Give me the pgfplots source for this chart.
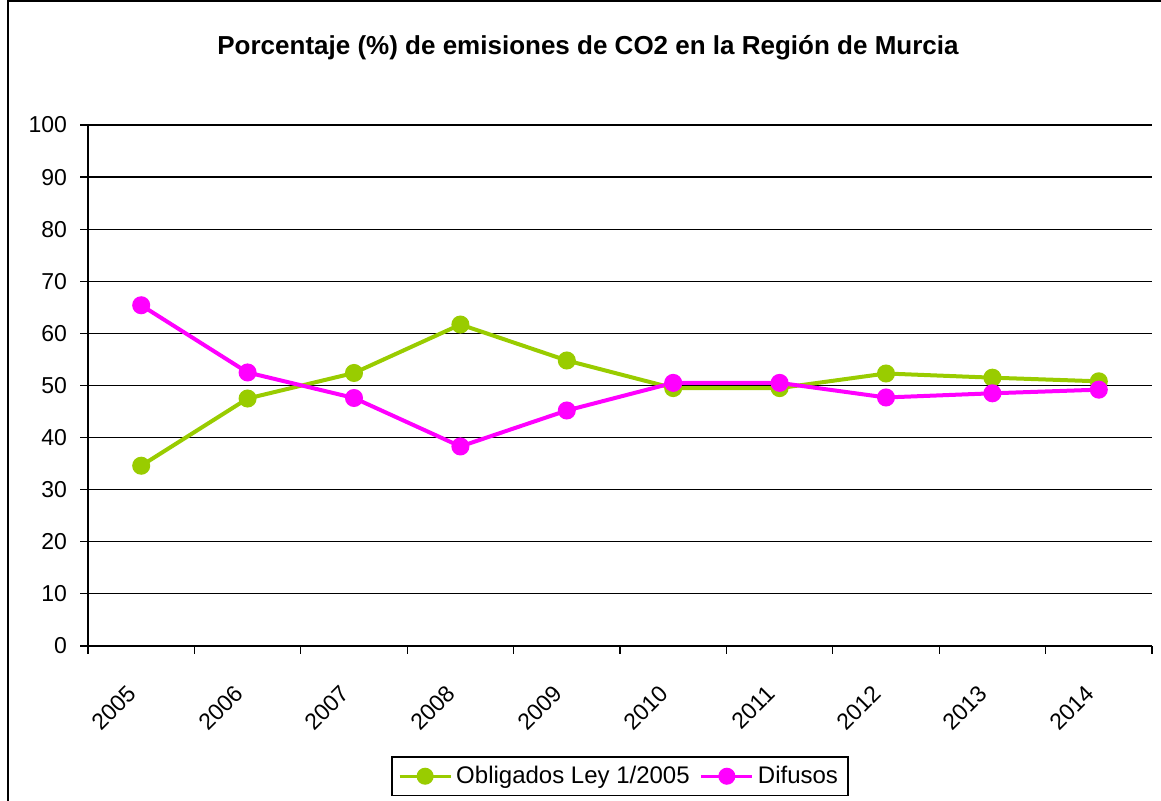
\documentclass[border=0pt]{standalone}
\usepackage{pgfplots}
\pgfplotsset{compat=1.18}
\usepackage{fontspec}
\setmainfont{Liberation Sans}
\definecolor{cgreen}{HTML}{99CC00}
\definecolor{cmag}{HTML}{FF00FF}
\begin{document}
\begin{tikzpicture}
\useasboundingbox (0,0) rectangle (580.5pt,400.5pt);
\draw[line width=1pt] (4pt,-10pt) rectangle (600pt,400pt);
\node[font=\fontsize{13}{15}\selectfont\bfseries] at (294pt,376.5pt) {Porcentaje (\%) de emisiones de CO2 en la Región de Murcia};
\begin{axis}[
  at={(44pt,77.5pt)}, anchor=south west,
  scale only axis, width=532pt, height=260.5pt,
  xmin=0, xmax=10, ymin=0, ymax=100,
  ytick={0,10,...,100},
  xtick={0.5,1.5,...,9.5},
  xticklabels={2005,2006,2007,2008,2009,2010,2011,2012,2013,2014},
  minor xtick={0,1,...,10},
  major x tick style={draw=none},
  tick align=outside, xtick pos=bottom, ytick pos=left,
  major tick length=4pt, minor tick length=4pt,
  ymajorgrids, grid style={black, line width=0.6pt},
  axis line style={line width=0.8pt},
  tick style={black, line width=0.6pt},
  axis x line*=bottom, axis y line*=left,
  every axis x line/.append style={line width=1.2pt},
  /pgf/number format/assume math mode=true,
  ticklabel style={font=\fontsize{11.5}{13}\selectfont},
  yticklabel style={xshift=-3pt},
  xticklabel style={xshift=-2pt, yshift=-15.5pt, rotate=45, anchor=east},
  legend style={at={(0.5,-0.25)}, anchor=center, draw=black, line width=0.6pt,
    font=\fontsize{12}{14}\selectfont, legend columns=2,
    /tikz/every even column/.append style={column sep=3pt},
    inner xsep=3pt, inner ysep=2.5pt},
  legend image code/.code={
    \draw[#1, line width=1.5pt, mark repeat=2, mark phase=2] plot coordinates {(0cm,0cm) (0.45cm,0cm) (0.9cm,0cm)};},
]
\addplot[color=cgreen, line width=2pt, mark=*, mark size=3.5pt, mark options={solid}] coordinates {
(0.5,34.6) (1.5,47.5) (2.5,52.4) (3.5,61.7) (4.5,54.8) (5.5,49.5) (6.5,49.5) (7.5,52.3) (8.5,51.5) (9.5,50.8)};
\addlegendentry{Obligados Ley 1/2005}
\addplot[color=cmag, line width=2pt, mark=*, mark size=3.5pt, mark options={solid}] coordinates {
(0.5,65.4) (1.5,52.5) (2.5,47.6) (3.5,38.3) (4.5,45.2) (5.5,50.5) (6.5,50.5) (7.5,47.7) (8.5,48.5) (9.5,49.2)};
\addlegendentry{Difusos}
\end{axis}
\end{tikzpicture}
\end{document}
